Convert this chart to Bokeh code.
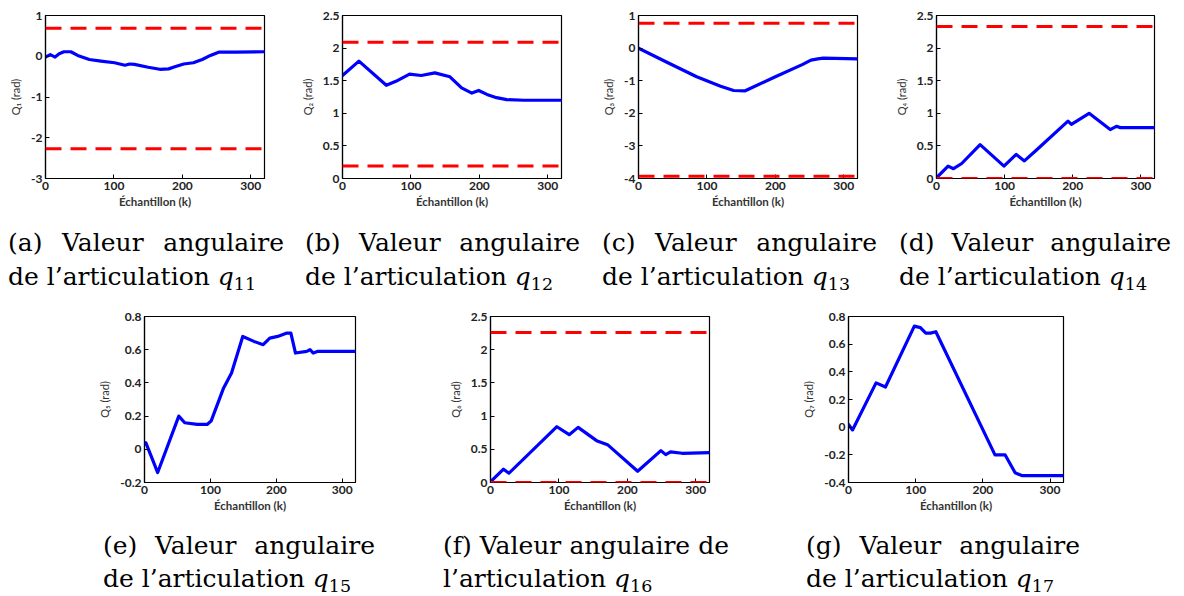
from bokeh.plotting import figure
from bokeh.layouts import column, row
from bokeh.models import Span, FixedTicker, Div, Spacer
from bokeh.embed import file_html
from bokeh.resources import INLINE

# ---------------- data ----------------
x_label = "Échantillon (k)"
x_ticks = [0, 100, 200, 300]

qa_x = [0, 7, 14, 20, 27, 37, 47, 64, 81, 101, 116, 123, 130, 150, 167, 180, 189, 202, 216, 229, 241, 253, 278, 320]
qa_y = [-0.02, 0.04, -0.02, 0.06, 0.11, 0.11, 0.02, -0.08, -0.12, -0.16, -0.22, -0.19, -0.20, -0.27, -0.32, -0.31, -0.26, -0.19, -0.16, -0.08, 0.02, 0.10, 0.10, 0.11]
qa_lim = [0.69, -2.27]
qa_yticks = [-3, -2, -1, 0, 1]

qb_x = [0, 24, 64, 78, 98, 115, 135, 157, 174, 189, 199, 211, 225, 240, 265, 320]
qb_y = [1.58, 1.80, 1.43, 1.49, 1.60, 1.58, 1.62, 1.56, 1.39, 1.31, 1.35, 1.29, 1.24, 1.21, 1.20, 1.20]
qb_lim = [2.09, 0.19]
qb_yticks = [0, 0.5, 1, 1.5, 2, 2.5]

qc_x = [0, 40, 85, 120, 139, 156, 200, 240, 252, 262, 270, 320]
qc_y = [0.0, -0.42, -0.88, -1.17, -1.30, -1.31, -0.88, -0.50, -0.37, -0.33, -0.31, -0.33]
qc_lim = [0.76, -3.93]
qc_yticks = [-4, -3, -2, -1, 0, 1]

qd_x = [0, 17, 25, 37, 64, 99, 117, 129, 146, 193, 198, 224, 255, 264, 270, 320]
qd_y = [0.01, 0.19, 0.15, 0.23, 0.52, 0.19, 0.37, 0.27, 0.43, 0.88, 0.83, 1.00, 0.75, 0.80, 0.78, 0.78]
qd_lim = [2.33, 0.0]
qd_yticks = [0, 0.5, 1, 1.5, 2, 2.5]

qe_x = [0, 2, 20, 52, 61, 80, 95, 101, 120, 132, 149, 166, 180, 190, 202, 216, 222, 229, 246, 251, 256, 263, 280, 320]
qe_y = [0.03, 0.04, -0.14, 0.20, 0.16, 0.15, 0.15, 0.17, 0.37, 0.46, 0.68, 0.65, 0.63, 0.67, 0.68, 0.70, 0.70, 0.58, 0.59, 0.60, 0.58, 0.59, 0.59, 0.59]
qe_lim = []
qe_yticks = [-0.2, 0, 0.2, 0.4, 0.6, 0.8]

qf_x = [0, 19, 27, 97, 115, 128, 155, 171, 215, 249, 256, 263, 280, 320]
qf_y = [0.01, 0.20, 0.14, 0.84, 0.72, 0.83, 0.63, 0.57, 0.17, 0.48, 0.42, 0.46, 0.44, 0.45]
qf_lim = [2.26, 0.0]
qf_yticks = [0, 0.5, 1, 1.5, 2, 2.5]

qg_x = [0, 6, 41, 55, 98, 107, 115, 122, 130, 218, 233, 248, 258, 320]
qg_y = [0.02, -0.02, 0.32, 0.29, 0.73, 0.72, 0.68, 0.68, 0.69, -0.20, -0.20, -0.33, -0.35, -0.35]
qg_lim = []
qg_yticks = [-0.4, -0.2, 0, 0.2, 0.4, 0.6, 0.8]

y_labels = ["Q₁ (rad)", "Q₂ (rad)", "Q₃ (rad)", "Q₄ (rad)", "Q₅ (rad)", "Q₆ (rad)", "Q₇ (rad)"]
cap_letters = ["a", "b", "c", "d", "e", "f", "g"]
cap_subs = ["11", "12", "13", "14", "15", "16", "17"]

# ---------------- helpers ----------------
def fmt(t):
    return ("%g" % t)

def make_fig(xs, ys, lims, yticks, ylabel, width, height, left, right, top, bottom):
    p = figure(width=width, height=height, x_range=(0, 320),
               y_range=(yticks[0], yticks[-1]),
               output_backend="svg", toolbar_location=None,
               min_border_left=left, min_border_right=right,
               min_border_top=top, min_border_bottom=bottom)
    p.background_fill_color = "white"
    p.border_fill_color = "white"
    p.outline_line_color = "black"
    p.outline_line_width = 1.2
    p.grid.visible = False
    for lim in lims:
        p.add_layout(Span(location=lim, dimension="width", line_color="#ff0000",
                          line_width=3, line_dash="16 9"))
    p.line(xs, ys, line_color="#0000ff", line_width=3.2, line_join="round", line_cap="round")
    p.xaxis.ticker = FixedTicker(ticks=x_ticks)
    p.yaxis.ticker = FixedTicker(ticks=yticks)
    p.xaxis.major_label_overrides = {t: fmt(t) for t in x_ticks}
    p.yaxis.major_label_overrides = {t: fmt(t) for t in yticks}
    p.xaxis.axis_label = x_label
    p.yaxis.axis_label = ylabel
    for ax in (p.xaxis, p.yaxis):
        ax.axis_line_color = "black"
        ax.axis_line_width = 1.2
        ax.major_tick_in = 4
        ax.major_tick_out = 0
        ax.minor_tick_line_color = None
        ax.major_tick_line_color = "black"
        ax.major_label_text_font = "Lato"
        ax.major_label_text_font_style = "bold"
        ax.major_label_text_font_size = "12px"
        ax.major_label_text_color = "#222222"
        ax.major_label_standoff = 3
    p.xaxis.axis_label_text_font = "Lato"
    p.xaxis.axis_label_text_font_style = "bold"
    p.xaxis.axis_label_text_font_size = "11.5px"
    p.xaxis.axis_label_text_color = "#333333"
    p.xaxis.axis_label_standoff = 2
    p.yaxis.axis_label_text_font = "Lato"
    p.yaxis.axis_label_text_font_style = "normal"
    p.yaxis.axis_label_text_font_size = "11px"
    p.yaxis.axis_label_text_color = "#333333"
    p.yaxis.axis_label_standoff = 6
    return p

def caption(letter, sub, text_w, div_w, div_h, pad_top, line_h, split_de=False):
    if split_de:
        l1 = "(%s) Valeur angulaire de" % letter
        l2 = "l’articulation"
    else:
        l1 = "(%s) Valeur angulaire" % letter
        l2 = "de l’articulation"
    html = (
        '<div style="font-family:\'DejaVu Serif\';font-size:25px;line-height:%dpx;'
        'color:#000;width:%dpx;padding-top:%dpx;padding-left:8px;">'
        '<div style="text-align:justify;text-align-last:justify;white-space:nowrap;">%s</div>'
        '<div style="white-space:nowrap;">%s <i>q</i><span style="font-size:70%%;'
        'position:relative;top:0.3em;">%s</span></div>'
        '</div>' % (line_h, text_w, pad_top, l1, l2, sub)
    )
    return Div(text=html, width=div_w, height=div_h, margin=0)

# ---------------- figures ----------------
fa = make_fig(qa_x, qa_y, qa_lim, qa_yticks, y_labels[0], 297, 215, 45, 33, 15, 37)
fb = make_fig(qb_x, qb_y, qb_lim, qb_yticks, y_labels[1], 297, 215, 45, 33, 15, 37)
fc = make_fig(qc_x, qc_y, qc_lim, qc_yticks, y_labels[2], 297, 215, 44, 34, 15, 37)
fd = make_fig(qd_x, qd_y, qd_lim, qd_yticks, y_labels[3], 290, 215, 45, 27, 15, 37)

fe = make_fig(qe_x, qe_y, qe_lim, qe_yticks, y_labels[4], 340, 214, 47, 80, 11, 37)
ff = make_fig(qf_x, qf_y, qf_lim, qf_yticks, y_labels[5], 363, 214, 55, 89, 11, 37)
fg = make_fig(qg_x, qg_y, qg_lim, qg_yticks, y_labels[6], 285, 214, 50, 20, 11, 37)

ca = caption(cap_letters[0], cap_subs[0], 284, 297, 90, 11, 34)
cb = caption(cap_letters[1], cap_subs[1], 283, 297, 90, 11, 34)
cc = caption(cap_letters[2], cap_subs[2], 283, 297, 90, 11, 34)
cd = caption(cap_letters[3], cap_subs[3], 280, 290, 90, 11, 34)

ce = caption(cap_letters[4], cap_subs[4], 280, 340, 76, 10, 33)
cf = caption(cap_letters[5], cap_subs[5], 294, 363, 76, 10, 33, split_de=True)
cg = caption(cap_letters[6], cap_subs[6], 282, 285, 76, 10, 33)

layout = column(
    row(fa, fb, fc, fd),
    row(ca, cb, cc, cd),
    row(Spacer(width=95, height=214), fe, ff, fg),
    row(Spacer(width=95, height=76), ce, cf, cg),
)

open("out.html", "w").write(file_html(layout, INLINE))
